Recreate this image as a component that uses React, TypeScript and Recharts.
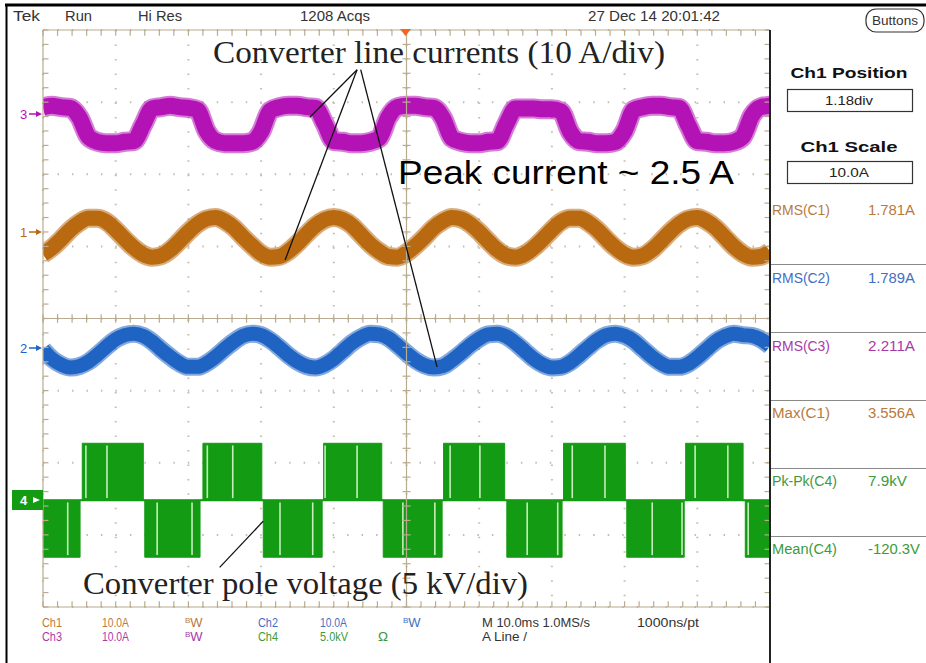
import React from 'react';
import { ComposedChart, Line, Area, XAxis, YAxis, ReferenceLine, CartesianGrid } from 'recharts';

// Tek scope capture: 10 ms/div, 10 x 8 divisions.
const CURRENT_T_MS = [
  0, 1.25, 2.5, 3.75, 5, 6.25, 7.5, 8.75, 10, 11.25, 12.5, 13.75, 15, 16.25, 17.5, 18.75, 20, 21.25, 22.5, 23.75,
  25, 26.25, 27.5, 28.75, 30, 31.25, 32.5, 33.75, 35, 36.25, 37.5, 38.75, 40, 41.25, 42.5, 43.75, 45, 46.25, 47.5, 48.75,
  50, 51.25, 52.5, 53.75, 55, 56.25, 57.5, 58.75, 60, 61.25, 62.5, 63.75, 65, 66.25, 67.5, 68.75, 70, 71.25, 72.5, 73.75,
  75, 76.25, 77.5, 78.75, 80, 81.25, 82.5, 83.75, 85, 86.25, 87.5, 88.75, 90, 91.25, 92.5, 93.75, 95, 96.25, 97.5, 98.75,
  100,
];

// Ch1 (brown), amps
const CH1_AMPS = [
  -2.9, -2.0, -0.8, 0.5, 1.5, 2.1, 2.1, 1.6, 0.5, -0.8,
  -2.0, -2.9, -3.3, -3.1, -2.3, -1.1, 0.2, 1.3, 2.0, 2.2,
  1.7, 0.8, -0.5, -1.7, -2.8, -3.3, -3.2, -2.5, -1.4, -0.1,
  1.1, 1.9, 2.2, 1.9, 1.1, -0.2, -1.5, -2.5, -3.2, -3.3,
  -2.7, -1.7, -0.5, 0.8, 1.7, 2.2, 2.0, 1.3, 0.2, -1.1,
  -2.3, -3.1, -3.3, -2.9, -2.0, -0.8, 0.5, 1.6, 2.1, 2.1,
  1.5, 0.5, -0.8, -2.0, -2.9, -3.3, -3.1, -2.3, -1.1, 0.2,
  1.3, 2.0, 2.2, 1.7, 0.8, -0.5, -1.8, -2.8, -3.3, -3.2,
  -2.5,
];

// Ch2 (blue), amps
const CH2_AMPS = [
  -0.2, -1.5, -2.3, -2.7, -2.5, -1.9, -0.9, 0.2, 1.2, 1.8,
  2.0, 1.7, 0.9, -0.2, -1.2, -2.1, -2.6, -2.6, -2.1, -1.2,
  -0.1, 0.9, 1.7, 2.0, 1.8, 1.1, 0.1, -1.0, -1.9, -2.5,
  -2.7, -2.3, -1.5, -0.4, 0.7, 1.5, 2.0, 1.9, 1.4, 0.4,
  -0.7, -1.7, -2.4, -2.7, -2.5, -1.7, -0.7, 0.4, 1.3, 1.9,
  2.0, 1.6, 0.7, -0.4, -1.5, -2.3, -2.7, -2.6, -2.0, -1.0,
  0.1, 1.1, 1.8, 2.0, 1.7, 1.0, -0.1, -1.2, -2.1, -2.6,
  -2.6, -2.2, -1.3, -0.2, 0.9, 1.6, 2.0, 1.8, 1.7, 1.2,
  0.3,
];

// Ch3 (magenta), amps
const CH3_AMPS = [
  0.8, 1.0, 0.8, 0.7, -0.6, -3.3, -4.0, -4.2, -4.2, -4.0,
  -3.9, -1.7, 0.6, 0.8, 1.0, 0.8, 0.7, 0.4, -2.5, -3.9,
  -4.2, -4.2, -4.2, -4.0, -2.6, 0.3, 0.8, 1.0, 1.0, 0.8,
  0.7, -1.5, -3.9, -4.0, -4.2, -4.2, -4.0, -3.5, -0.6, 0.8,
  1.0, 1.0, 0.8, 0.7, -0.7, -3.5, -4.0, -4.2, -4.2, -4.0,
  -3.9, -1.5, 0.6, 0.6, 0.6, 0.5, 0.5, 0.2, -2.6, -3.9,
  -4.0, -4.2, -4.2, -4.0, -2.5, 0.4, 0.8, 1.0, 1.0, 0.8,
  0.7, -1.7, -3.9, -4.0, -4.2, -4.2, -4.0, -3.3, -0.4, 0.8,
  1.0,
];

// Ch4 pole voltage (kV), level held from each edge time
const CH4_EDGE_MS = [
  0, 5.1, 5.4, 13.8, 14.0, 21.6, 22.0, 30.1, 30.3, 38.4, 38.6, 46.6, 46.8,
  54.9, 55.1, 63.5, 63.8, 71.4, 71.6, 80.1, 80.3, 88.2, 88.4, 96.3, 96.6, 100,
];
const CH4_KV = [
  -3.95, 0, 3.95, 0, -3.95, 0, 3.95, 0, -3.95, 0, 3.95, 0, -3.95,
  0, 3.95, 0, -3.95, 0, 3.95, 0, -3.95, 0, 3.95, 0, -3.95, -3.95,
];
// light switching gaps visible inside the PWM blocks
const CH4_GAPS_POS_MS = [5.9, 8.8, 22.6, 26.1, 38.8, 43.2, 56.0, 60.1, 72.8, 77.3, 89.7, 94.2];
const CH4_GAPS_NEG_MS = [3.4, 15.7, 20.5, 32.6, 37.1, 49.5, 53.9, 66.6, 70.8, 83.8, 87.9, 97.0];

// channel offsets (div) and scales (units/div)
const CH1_POS = 1.18;
const CH2_POS = -0.41;
const CH3_POS = 2.85;
const CH4_POS = -2.52;
const AMPS_PER_DIV = 10;
const KV_PER_DIV = 5;

const MEASUREMENTS = [
  { label: 'RMS(C1)', value: '1.781A', color: '#b97a3d' },
  { label: 'RMS(C2)', value: '1.789A', color: '#3f6fc4' },
  { label: 'RMS(C3)', value: '2.211A', color: '#a83aa8' },
  { label: 'Max(C1)', value: '3.556A', color: '#b97a3d' },
  { label: 'Pk-Pk(C4)', value: '7.9kV', color: '#3c9a3c' },
  { label: 'Mean(C4)', value: '-120.3V', color: '#3c9a3c' },
];

const MAGENTA = '#b313b5';
const BROWN = '#b96a10';
const BLUE = '#1f63c3';
const GREEN = '#139c13';
const TAN = '#b9ab8f';
const DOTS = '#c4bdb0';
const NARROW = "'Liberation Sans Narrow', 'Liberation Sans', Arial, sans-serif";
const SERIF = "'Liberation Serif', 'Times New Roman', serif";

const X_DIVS = [0, 10, 20, 30, 40, 50, 60, 70, 80, 90, 100];
const Y_DIVS = [-4, -3, -2, -1, 0, 1, 2, 3, 4];
const X_MINOR = Array.from({ length: 51 }, (_, i) => i * 2);
const Y_MINOR = Array.from({ length: 41 }, (_, i) => Math.round((-4 + i * 0.2) * 10) / 10);

const currentRows = CURRENT_T_MS.map((t, i) => ({
  t,
  c1: CH1_POS + CH1_AMPS[i] / AMPS_PER_DIV,
  c2: CH2_POS + CH2_AMPS[i] / AMPS_PER_DIV,
  c3: CH3_POS + CH3_AMPS[i] / AMPS_PER_DIV,
}));

const poleRows = CH4_EDGE_MS.map((t, i) => {
  const v = CH4_POS + CH4_KV[i] / KV_PER_DIV;
  return { t, band: [Math.min(CH4_POS, v), Math.max(CH4_POS, v)] };
});

const ChannelMarker: React.FC<{ n: string; y: number; color: string }> = ({ n, y, color }) => (
  <g>
    <text x={20} y={y + 5} fontSize={13} fill={color} fontFamily={NARROW}>{n}</text>
    <line x1={29} y1={y} x2={39} y2={y} stroke={color} strokeWidth={1.5} />
    <path d={`M36 ${y - 3} L42 ${y} L36 ${y + 3} Z`} fill={color} />
  </g>
);

const T: React.FC<{ x: number; y: number; w: number; s?: number; c?: string; anchor?: 'start' | 'middle'; bold?: boolean; children: React.ReactNode }> = ({ x, y, w, s = 13, c = '#333', anchor = 'start', bold, children }) => (
  <text x={x} y={y} fontSize={s} fill={c} fontFamily={NARROW} fontWeight={bold ? 700 : 400} textAnchor={anchor} textLength={w} lengthAdjust="spacingAndGlyphs">
    {children}
  </text>
);

const Bw: React.FC<{ x: number; y: number; c: string }> = ({ x, y, c }) => (
  <text x={x} y={y} fontSize={13} fill={c} fontFamily={NARROW}>
    <tspan fontSize={8} dy={-4}>B</tspan>
    <tspan dy={4}>W</tspan>
  </text>
);

export default function App() {
  return (
    <div style={{ position: 'absolute', left: 0, top: 0, width: 926, height: 663, background: '#fff', overflow: 'hidden' }}>
      <div style={{ position: 'absolute', left: 0, top: 0 }}>
        <ComposedChart width={926} height={663} margin={{ top: 30, right: 156, bottom: 56, left: 43 }}>
          <XAxis type="number" dataKey="t" domain={[0, 100]} ticks={X_DIVS} hide allowDataOverflow />
          <YAxis type="number" domain={[-4, 4]} ticks={Y_DIVS} hide allowDataOverflow />
          <CartesianGrid stroke={DOTS} strokeWidth={2} strokeDasharray="1.5 12.98" />

          {/* Ch4 pole voltage */}
          <Area data={poleRows} dataKey="band" type="stepAfter" stroke={GREEN} strokeWidth={1} fill={GREEN} fillOpacity={1} isAnimationActive={false} />

          {/* current traces: a soft halo plus a dense core to mimic the noisy band */}
          <Line data={currentRows} dataKey="c3" type="monotone" stroke={MAGENTA} strokeOpacity={0.55} strokeWidth={20} dot={false} isAnimationActive={false} />
          <Line data={currentRows} dataKey="c3" type="monotone" stroke={MAGENTA} strokeWidth={16} dot={false} isAnimationActive={false} />
          <Line data={currentRows} dataKey="c1" type="monotone" stroke={BROWN} strokeOpacity={0.55} strokeWidth={19} dot={false} isAnimationActive={false} />
          <Line data={currentRows} dataKey="c1" type="monotone" stroke={BROWN} strokeWidth={15} dot={false} isAnimationActive={false} />
          <Line data={currentRows} dataKey="c2" type="monotone" stroke={BLUE} strokeOpacity={0.55} strokeWidth={18} dot={false} isAnimationActive={false} />
          <Line data={currentRows} dataKey="c2" type="monotone" stroke={BLUE} strokeWidth={14} dot={false} isAnimationActive={false} />

          <ReferenceLine segment={[{ x: 0, y: CH4_POS }, { x: 100, y: CH4_POS }]} stroke={GREEN} strokeWidth={2} />
          {CH4_GAPS_POS_MS.map((t) => (
            <ReferenceLine key={'gp' + t} segment={[{ x: t, y: CH4_POS + 0.03 }, { x: t, y: CH4_POS + 0.76 }]} stroke="#c4efb8" strokeWidth={1.6} />
          ))}
          {CH4_GAPS_NEG_MS.map((t) => (
            <ReferenceLine key={'gn' + t} segment={[{ x: t, y: CH4_POS - 0.03 }, { x: t, y: CH4_POS - 0.76 }]} stroke="#c4efb8" strokeWidth={1.6} />
          ))}

          {/* centre axes and frame with minor ticks */}
          <ReferenceLine x={50} stroke={TAN} strokeWidth={1.2} />
          <ReferenceLine y={0} stroke={TAN} strokeWidth={1.2} />
          <ReferenceLine x={0} stroke={TAN} strokeWidth={1.2} />
          <ReferenceLine y={4} stroke={TAN} strokeWidth={1.2} />
          <ReferenceLine y={-4} stroke={TAN} strokeWidth={1.2} />
          {X_MINOR.map((t) => (
            <ReferenceLine key={'cx' + t} segment={[{ x: t, y: -0.06 }, { x: t, y: 0.06 }]} stroke={TAN} strokeWidth={1.2} />
          ))}
          {X_MINOR.map((t) => (
            <ReferenceLine key={'tx' + t} segment={[{ x: t, y: 4 }, { x: t, y: 3.92 }]} stroke={TAN} strokeWidth={1.2} />
          ))}
          {X_MINOR.map((t) => (
            <ReferenceLine key={'bx' + t} segment={[{ x: t, y: -4 }, { x: t, y: -3.92 }]} stroke={TAN} strokeWidth={1.2} />
          ))}
          {Y_MINOR.map((v) => (
            <ReferenceLine key={'cy' + v} segment={[{ x: 49.45, y: v }, { x: 50.55, y: v }]} stroke={TAN} strokeWidth={1.2} />
          ))}
          {Y_MINOR.map((v) => (
            <ReferenceLine key={'ly' + v} segment={[{ x: 0, y: v }, { x: 0.75, y: v }]} stroke={TAN} strokeWidth={1.2} />
          ))}
          {Y_MINOR.map((v) => (
            <ReferenceLine key={'ry' + v} segment={[{ x: 99.25, y: v }, { x: 100, y: v }]} stroke={TAN} strokeWidth={1.2} />
          ))}

          {/* annotation leaders */}
          <ReferenceLine segment={[{ x: 43.2, y: 3.45 }, { x: 36.7, y: 2.79 }]} stroke="#111" strokeWidth={1.3} />
          <ReferenceLine segment={[{ x: 43.2, y: 3.45 }, { x: 33.3, y: 0.81 }]} stroke="#111" strokeWidth={1.3} />
          <ReferenceLine segment={[{ x: 43.7, y: 3.45 }, { x: 54.2, y: -0.67 }]} stroke="#111" strokeWidth={1.3} />
          <ReferenceLine segment={[{ x: 24.3, y: -3.45 }, { x: 30.3, y: -2.81 }]} stroke="#111" strokeWidth={1.3} />
        </ComposedChart>
      </div>

      <svg width={926} height={663} style={{ position: 'absolute', left: 0, top: 0, pointerEvents: 'none' }}>
        {/* frame */}
        <line x1={5} y1={5} x2={926} y2={5} stroke="#000" strokeWidth={3} />
        <line x1={6.5} y1={4} x2={6.5} y2={663} stroke="#000" strokeWidth={2} />
        <line x1={770} y1={30} x2={770} y2={663} stroke="#222" strokeWidth={2} />
        <path d="M400 29 L411 29 L405.5 36 Z" fill="#f2661e" />

        {/* top status line */}
        <T x={13} y={21} w={27} s={14}>Tek</T>
        <T x={65} y={21} w={27} s={14}>Run</T>
        <T x={138} y={21} w={44} s={14}>Hi Res</T>
        <T x={300} y={21} w={70} s={14}>1208 Acqs</T>
        <T x={588} y={21} w={132} s={14}>27 Dec 14 20:01:42</T>
        <rect x={866} y={9} width={58} height={23} rx={10} fill="none" stroke="#333" strokeWidth={1.2} />
        <T x={895} y={25} w={46} s={12} anchor="middle">Buttons</T>

        {/* channel markers */}
        <ChannelMarker n="3" y={114} color={MAGENTA} />
        <ChannelMarker n="1" y={232} color={BROWN} />
        <ChannelMarker n="2" y={348} color={BLUE} />
        <rect x={12} y={490} width={31} height={20} fill={GREEN} />
        <text x={20} y={505} fontSize={13} fill="#fff" fontFamily={NARROW} fontWeight={700}>4</text>
        <path d="M33 497 L40 500 L33 503 Z" fill="#fff" />

        {/* right side panel */}
        <T x={849} y={78} w={117} s={15} c="#111" anchor="middle" bold>Ch1 Position</T>
        <rect x={787.5} y={89.5} width={125} height={22} fill="none" stroke="#333" strokeWidth={1.2} />
        <T x={849} y={105} w={48} s={13} c="#222" anchor="middle">1.18div</T>
        <T x={849} y={152} w={97} s={15} c="#111" anchor="middle" bold>Ch1 Scale</T>
        <rect x={787.5} y={161.5} width={125} height={22} fill="none" stroke="#333" strokeWidth={1.2} />
        <T x={849} y={177} w={40} s={13} c="#222" anchor="middle">10.0A</T>
        {MEASUREMENTS.map((m, i) => (
          <g key={m.label}>
            <T x={772} y={215 + i * 67.8} w={m.label.length > 7 ? 65 : 58} s={14} c={m.color}>{m.label}</T>
            <T x={868} y={215 + i * 67.8} w={m.value.length > 6 ? 52 : m.value.length > 5 ? 47 : 39} s={14} c={m.color}>{m.value}</T>
            {i < MEASUREMENTS.length - 1 && (
              <line x1={771} y1={264.5 + i * 68} x2={926} y2={264.5 + i * 68} stroke="#8a8a8a" strokeWidth={1.2} />
            )}
          </g>
        ))}

        {/* bottom channel readout */}
        <T x={42} y={627} w={20} c="#b97a3d">Ch1</T>
        <T x={102} y={627} w={27} c="#b97a3d">10.0A</T>
        <Bw x={185} y={627} c="#b97a3d" />
        <T x={258} y={627} w={20} c="#3f6fc4">Ch2</T>
        <T x={320} y={627} w={27} c="#3f6fc4">10.0A</T>
        <Bw x={403} y={627} c="#3f6fc4" />
        <T x={482} y={627} w={108}>M 10.0ms 1.0MS/s</T>
        <T x={637} y={627} w={62}>1000ns/pt</T>
        <T x={42} y={641} w={20} c="#a83aa8">Ch3</T>
        <T x={102} y={641} w={27} c="#a83aa8">10.0A</T>
        <Bw x={185} y={641} c="#a83aa8" />
        <T x={258} y={641} w={20} c="#3c9a3c">Ch4</T>
        <T x={320} y={641} w={28} c="#3c9a3c">5.0kV</T>
        <T x={378} y={641} w={10} c="#3c9a3c">Ω</T>
        <T x={482} y={641} w={45}>A Line  /</T>

        {/* annotations */}
        <text x={213} y={63} fontSize={32} fill="#222" fontFamily={SERIF} textLength={452} lengthAdjust="spacingAndGlyphs">Converter line currents (10 A/div)</text>
        <text x={398} y={184} fontSize={34} fill="#000" fontFamily="'Liberation Sans', Arial, sans-serif" textLength={336} lengthAdjust="spacingAndGlyphs">Peak current ~ 2.5 A</text>
        <text x={83} y={594} fontSize={32} fill="#222" fontFamily={SERIF} textLength={445} lengthAdjust="spacingAndGlyphs">Converter pole voltage (5 kV/div)</text>
      </svg>
    </div>
  );
}
